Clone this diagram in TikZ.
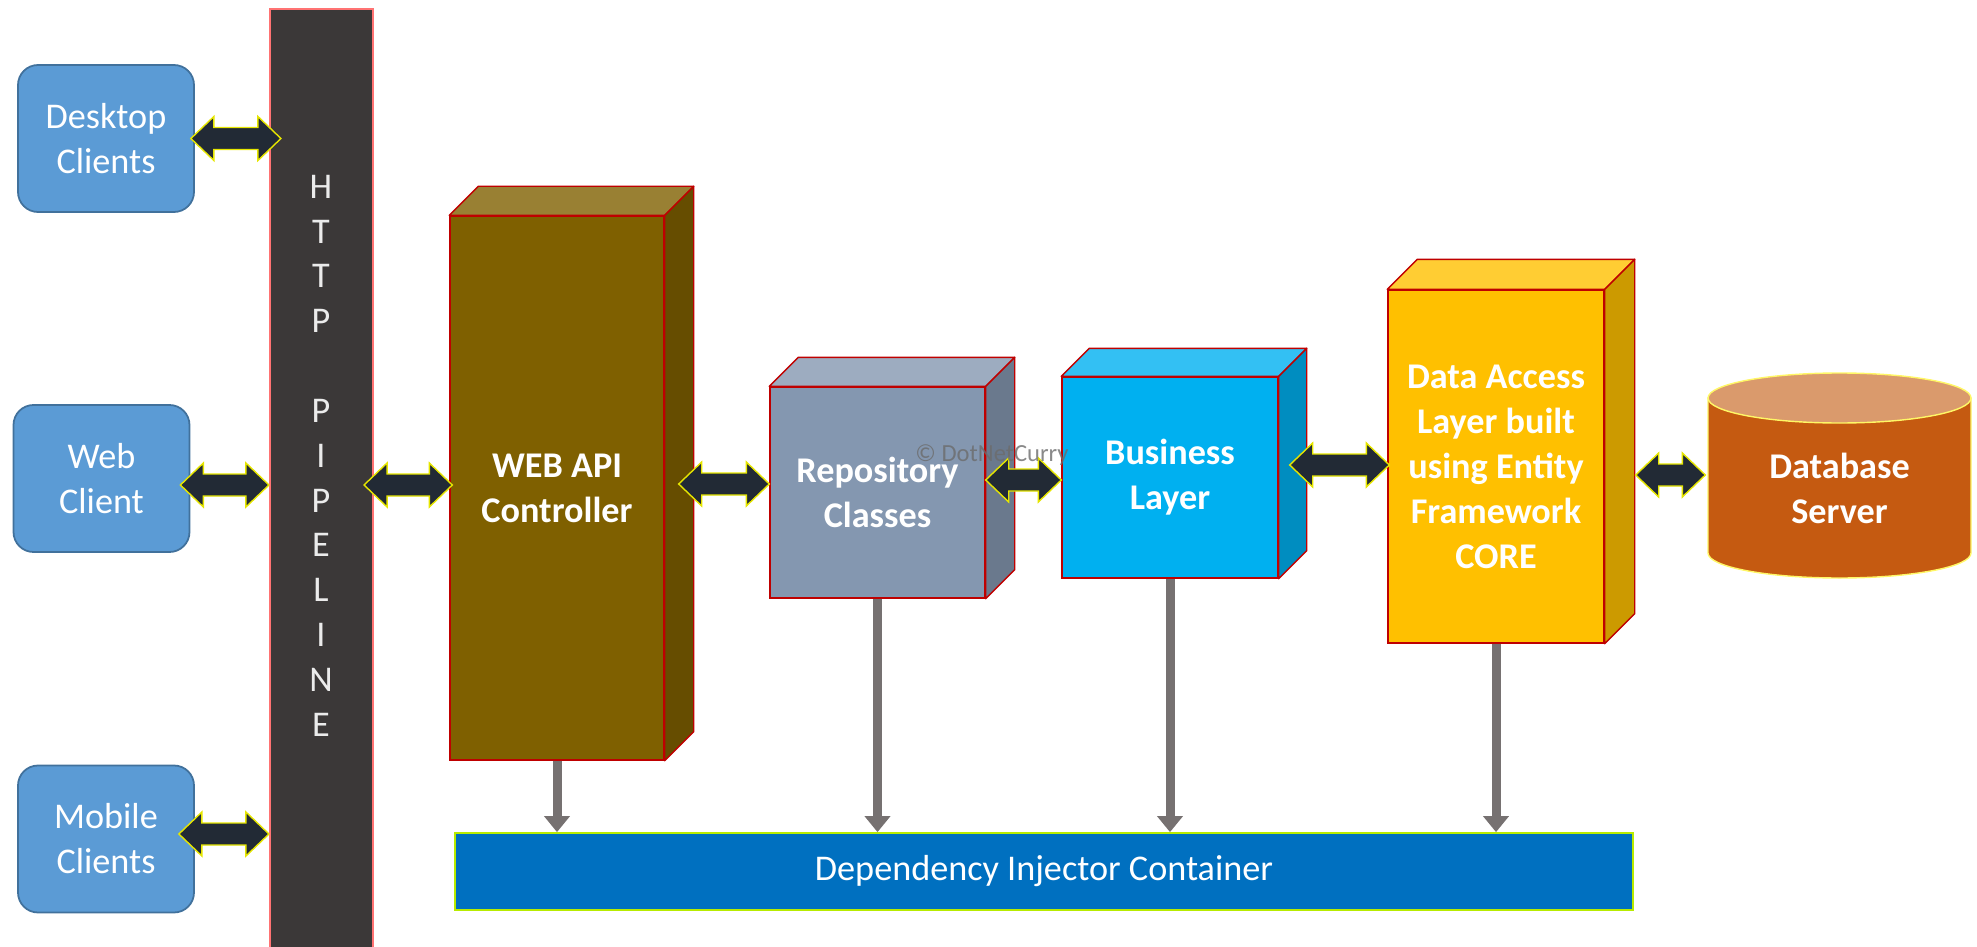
\documentclass[tikz,border=0pt]{standalone}
\usepackage{fontspec}
\setmainfont{Carlito}
\usetikzlibrary{arrows.meta,calc}

\definecolor{clientblue}{HTML}{5B9BD5}
\definecolor{clientedge}{HTML}{41719C}
\definecolor{pipegray}{HTML}{3B3838}
\definecolor{apibrown}{HTML}{7F6000}
\definecolor{repogray}{HTML}{8497B0}
\definecolor{bizblue}{HTML}{00B0F0}
\definecolor{dalgold}{HTML}{FFC000}
\definecolor{dbbody}{HTML}{C55A11}
\definecolor{dbtop}{HTML}{DA9A6C}
\definecolor{diblue}{HTML}{0070C0}
\definecolor{linkdark}{HTML}{222A35}
\definecolor{linkrim}{HTML}{E6E600}
\definecolor{injectgray}{HTML}{767171}

\tikzset{
  txt/.style={font=\fontsize{10.3}{12.8}\selectfont, text=white, align=center, inner sep=0pt},
  client/.style={txt, rectangle, rounded corners=0.2cm, fill=clientblue, draw=clientedge, line width=0.5pt, minimum width=1.76cm, minimum height=1.47cm},
  pipe/.style={rectangle, fill=pipegray, draw=red!55, line width=0.6pt, minimum width=1.03cm, minimum height=9.42cm},
  layer/.style={txt, font=\fontsize{10.3}{12.8}\selectfont\bfseries, rectangle, fill=#1, draw=red!75!black, line width=0.4pt},
  cubeedge/.style={draw=red!75!black, line width=0.4pt, line join=round},
  container/.style={txt, rectangle, fill=diblue, draw=linkrim!80!green, line width=0.5pt, minimum width=11.78cm, minimum height=0.77cm},
  link/.style={fill=linkdark, draw=linkrim, line width=0.4pt, line join=miter, to path={
    let \p1=(\tikztostart), \p2=(\tikztotarget) in
    (\x1,\y1) -- (\x1+0.23cm,\y1+0.22cm) -- (\x1+0.23cm,\y1+0.11cm)
    -- (\x2-0.23cm,\y1+0.11cm) -- (\x2-0.23cm,\y1+0.22cm) -- (\x2,\y1)
    -- (\x2-0.23cm,\y1-0.22cm) -- (\x2-0.23cm,\y1-0.11cm)
    -- (\x1+0.23cm,\y1-0.11cm) -- (\x1+0.23cm,\y1-0.22cm) -- cycle}},
  inject/.style={draw=injectgray, line width=0.09cm, -{Triangle[width=0.25cm,length=0.16cm]}}
}

\begin{document}
\begin{tikzpicture}
\useasboundingbox (0,0) rectangle (19.77,9.46);

% clients and the pipeline bar
\node[client] (dc) at (1.06,8.075) {Desktop\\Clients};
\node[client] (wc) at (1.015,4.675) {Web\\Client};
\node[client] (mc) at (1.06,1.07) {Mobile\\Clients};
\node[pipe] (http) at (3.215,4.66) {};
\node[txt, font=\fontsize{10.3}{12.75}\selectfont, text=white!92!black] (httplabel) at (3.21,4.904)
  {H\\T\\T\\P\\[12.75pt]P\\I\\P\\E\\L\\I\\N\\E};

% layers, front faces
\node[layer=apibrown, minimum width=2.14cm, minimum height=5.44cm] (api) at (5.57,4.58) {WEB API\\Controller};
\node[layer=repogray, minimum width=2.15cm, minimum height=2.11cm] (repo) at (8.775,4.535) {Repository\\Classes};
\node[layer=bizblue, minimum width=2.16cm, minimum height=2.01cm] (biz) at (11.70,4.685) {Business\\Layer};
\node[layer=dalgold, minimum width=2.16cm, minimum height=3.53cm] (dal) at (14.96,4.795) {Data Access\\Layer built\\using Entity\\Framework\\CORE};

% top and side faces
\foreach \n/\c/\d in {api/apibrown/0.29, repo/repogray/0.29, biz/bizblue/0.28, dal/dalgold/0.30}{
  \filldraw[fill=\c!80!white, cubeedge] (\n.north west) -- ++(\d,\d) -- ($(\n.north east)+(\d,\d)$) -- (\n.north east) -- cycle;
  \filldraw[fill=\c!80!black, cubeedge] (\n.north east) -- ++(\d,\d) -- ($(\n.south east)+(\d,\d)$) -- (\n.south east) -- cycle;
}

% database
\filldraw[fill=dbbody, draw=yellow!60!white, line width=0.4pt] (17.08,5.48) -- (17.08,3.93)
  arc[start angle=180, end angle=360, x radius=1.315, y radius=0.25] -- (19.71,5.48) -- cycle;
\filldraw[fill=dbtop, draw=yellow!60!white, line width=0.4pt] (18.395,5.48) ellipse[x radius=1.315, y radius=0.25];
\node[txt, font=\fontsize{10.3}{12.8}\selectfont\bfseries, minimum width=2.63cm, minimum height=1.5cm] (db) at (18.395,4.575) {Database\\Server};

\node[container] (di) at (10.44,0.745) {Dependency Injector Container};

% two-way links
\draw[link] ($(dc.east)+(-0.04,0)$) to ($(http.west |- dc.east)+(0.12,0)$);
\draw[link] ($(wc.east)+(-0.10,-0.065)$) to (http.west |- wc.east);
\draw[link] ($(mc.east)+(-0.16,0.05)$) to (http.west |- mc.east);
\draw[link] ($(http.east |- api.west)+(-0.10,0.03)$) to ($(api.west)+(0.03,0)$);
\draw[link] ($(api.east)+(0.14,0.04)$) to (repo.west);
\draw[link] ($(repo.east)+(0,0.125)$) to (biz.west);
\draw[link] ($(biz.east)+(0.11,0.125)$) to ($(dal.west)+(0.02,0)$);
\draw[link] ($(dal.east)+(0.31,-0.085)$) to ($(db.west)+(-0.02,0)$);

% registrations into the container
\draw[inject] (api.south) -- (api.south |- di.north);
\draw[inject] (repo.south) -- (repo.south |- di.north);
\draw[inject] (biz.south) -- (biz.south |- di.north);
\draw[inject] (dal.south) -- (dal.south |- di.north);

\node[font=\fontsize{7}{8}\selectfont, text=gray!85!black, opacity=0.8, inner sep=0pt] (mark) at (9.92,4.91) {© DotNetCurry};
\end{tikzpicture}
\end{document}
